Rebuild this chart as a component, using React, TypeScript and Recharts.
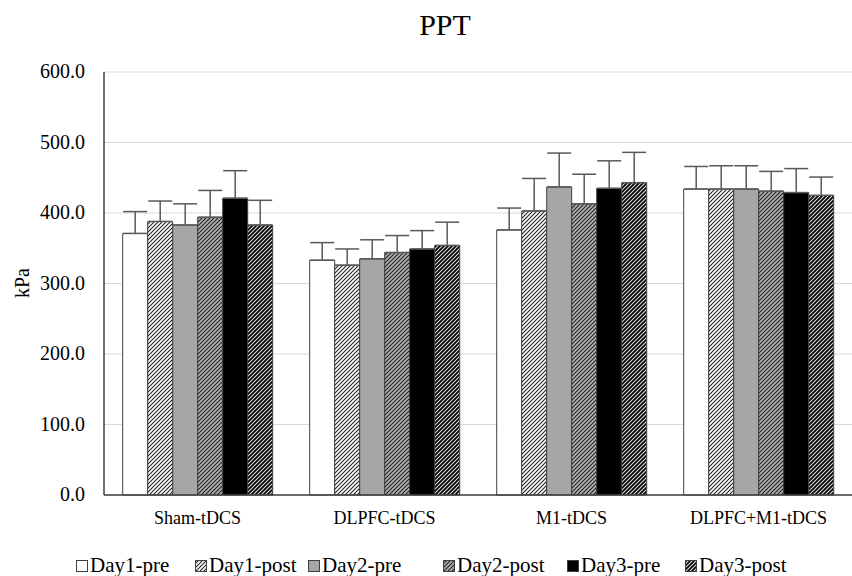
import React from "react"
import { BarChart, Bar, XAxis, YAxis, CartesianGrid, ErrorBar } from "recharts"

// Groups and series
const groups = ["Sham-tDCS", "DLPFC-tDCS", "M1-tDCS", "DLPFC+M1-tDCS"]
const seriesNames = ["Day1-pre", "Day1-post", "Day2-pre", "Day2-post", "Day3-pre", "Day3-post"]

// Mean values (kPa), one array per series, in group order
const day1Pre = [371, 333, 376, 434]
const day1Post = [388, 326, 403, 434]
const day2Pre = [383, 335, 437, 434]
const day2Post = [394, 344, 413, 431]
const day3Pre = [421, 349, 435, 429]
const day3Post = [383, 354, 443, 425]

// Standard deviations (upper error bar only)
const day1PreSd = [31, 25, 31, 32]
const day1PostSd = [29, 23, 46, 33]
const day2PreSd = [30, 27, 48, 33]
const day2PostSd = [38, 24, 42, 28]
const day3PreSd = [39, 26, 39, 34]
const day3PostSd = [35, 33, 43, 26]

const yTicks = [0, 100, 200, 300, 400, 500, 600]

const means = [day1Pre, day1Post, day2Pre, day2Post, day3Pre, day3Post]
const sds = [day1PreSd, day1PostSd, day2PreSd, day2PostSd, day3PreSd, day3PostSd]

const data = groups.map((g, gi) => {
  const row: Record<string, any> = { name: g }
  seriesNames.forEach((s, si) => {
    row[s] = means[si][gi]
    row[s + "_err"] = [0, sds[si][gi]]
  })
  return row
})

const FILLS = [
  "#ffffff",
  "url(#hatchLight)",
  "#a6a6a6",
  "url(#hatchGray)",
  "#000000",
  "url(#hatchDark)",
]

const FONT = "Liberation Serif, serif"

// legend item left edges
const legendLefts = [76, 195, 308, 443, 567, 685]

function XTick(props: any) {
  const { x, y, payload } = props
  return (
    <text x={x} y={y + 14} textAnchor="middle" style={{ fontFamily: FONT, fontSize: 18, fill: "#000" }}>
      {payload.value}
    </text>
  )
}

function YTick(props: any) {
  const { x, y, payload } = props
  return (
    <text x={x} y={y + 6} textAnchor="end" style={{ fontFamily: FONT, fontSize: 20, fill: "#000" }}>
      {Number(payload.value).toFixed(1)}
    </text>
  )
}

function Swatch({ fill }: { fill: string }) {
  return (
    <svg width={12} height={12} style={{ marginRight: 2 }}>
      <rect x={0.5} y={0.5} width={11} height={11} fill={fill} stroke="#404040" strokeWidth={1} />
    </svg>
  )
}

export default function App() {
  return (
    <div style={{ position: "absolute", left: 0, top: 0, width: 852, height: 576, fontFamily: FONT, background: "#fff" }}>
      <div style={{ position: "absolute", left: 345, width: 200, top: 8, textAlign: "center", fontSize: 30, color: "#000" }}>
        PPT
      </div>
      <div style={{ position: "absolute", left: 22, top: 283, transform: "translate(-50%, -50%) rotate(-90deg)", fontSize: 20, color: "#000" }}>
        kPa
      </div>
      <BarChart
        width={852}
        height={576}
        data={data}
        margin={{ top: 72, right: 0, left: 0, bottom: 51 }}
        barCategoryGap="10%"
        barGap={0}
      >
        <defs>
          <pattern id="hatchLight" patternUnits="userSpaceOnUse" width={4} height={4}>
            <rect width={4} height={4} fill="#ffffff" />
            <path d="M-1,1 l2,-2 M0,4 l4,-4 M3,5 l2,-2" stroke="#222" strokeWidth={1.1} />
          </pattern>
          <pattern id="hatchGray" patternUnits="userSpaceOnUse" width={4} height={4}>
            <rect width={4} height={4} fill="#b0b0b0" />
            <path d="M-1,1 l2,-2 M0,4 l4,-4 M3,5 l2,-2" stroke="#222" strokeWidth={1.1} />
          </pattern>
          <pattern id="hatchDark" patternUnits="userSpaceOnUse" width={4} height={4}>
            <rect width={4} height={4} fill="#000000" />
            <path d="M-1,1 l2,-2 M0,4 l4,-4 M3,5 l2,-2" stroke="#e0e0e0" strokeWidth={1.1} />
          </pattern>
        </defs>
        <CartesianGrid vertical={false} stroke="#d9d9d9" strokeWidth={1} />
        <XAxis
          dataKey="name"
          axisLine={{ stroke: "#404040", strokeWidth: 1.5 }}
          tickLine={false}
          tickSize={0}
          tickMargin={15}
          height={30}
          tick={<XTick />}
        />
        <YAxis
          domain={[0, 600]}
          ticks={yTicks}
          width={104}
          axisLine={{ stroke: "#404040", strokeWidth: 1.5 }}
          tickLine={false}
          tickSize={0}
          tickMargin={19}
          tick={<YTick />}
        />
        {seriesNames.map((s, i) => (
          <Bar key={s} dataKey={s} fill={FILLS[i]} stroke="#404040" strokeWidth={1} isAnimationActive={false}>
            <ErrorBar dataKey={s + "_err"} direction="y" width={12} stroke="#595959" strokeWidth={1.5} />
          </Bar>
        ))}
      </BarChart>
      <div style={{ position: "absolute", top: 553, left: 0, height: 24, fontSize: 21, color: "#000", whiteSpace: "nowrap" }}>
        {seriesNames.map((s, i) => (
          <div key={s} style={{ position: "absolute", left: legendLefts[i], top: 0, display: "flex", alignItems: "center" }}>
            <Swatch fill={FILLS[i]} />
            <span>{s}</span>
          </div>
        ))}
      </div>
    </div>
  )
}
